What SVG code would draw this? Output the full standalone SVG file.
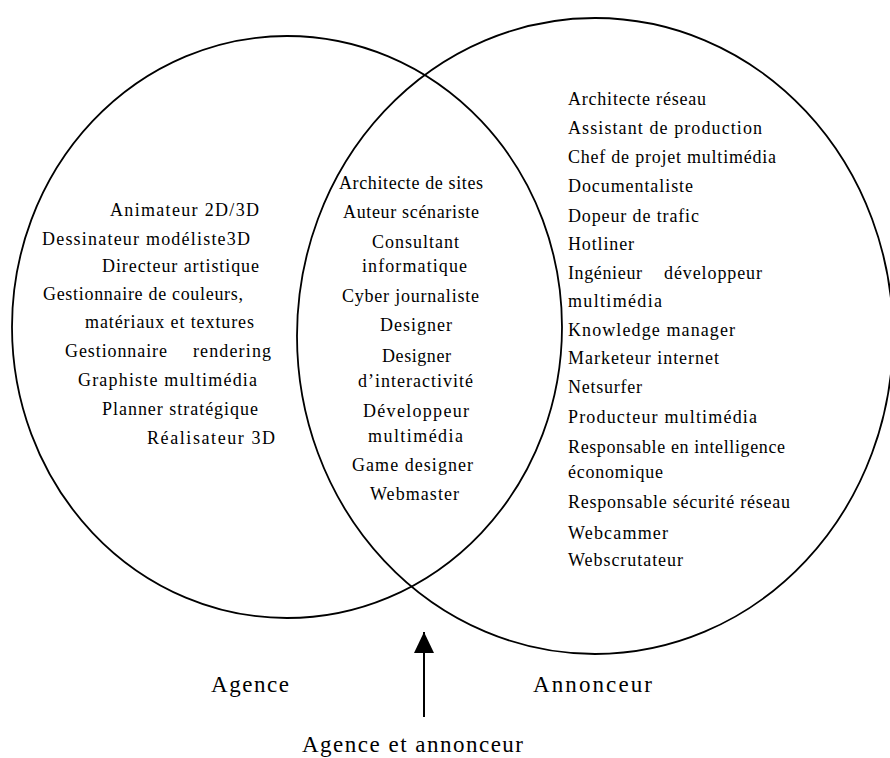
<svg xmlns="http://www.w3.org/2000/svg" width="890" height="758" viewBox="0 0 890 758">
<style>
.set{fill:none;stroke:#000;stroke-width:1.8}
text{font-family:"Liberation Serif","Times New Roman",serif;font-size:18px;fill:#000}
.lbl{font-size:23px}
.conn{stroke:#000;stroke-width:2;fill:none}
</style>
<defs>
<marker id="tri" viewBox="0 0 21 20" refX="21" refY="10" markerWidth="21" markerHeight="20" markerUnits="userSpaceOnUse" orient="auto">
<path d="M0,0 L21,10 L0,20 z" fill="#000"/>
</marker>
</defs>
<g id="agence">
<ellipse class="set" cx="287" cy="327" rx="275" ry="291"/>
<text x="110" y="216" textLength="149" lengthAdjust="spacing">Animateur 2D/3D</text>
<text x="42" y="245" textLength="208" lengthAdjust="spacing">Dessinateur modéliste3D</text>
<text x="102" y="272" textLength="157" lengthAdjust="spacing">Directeur artistique</text>
<text x="43" y="300" textLength="200" lengthAdjust="spacing">Gestionnaire de couleurs,</text>
<text x="85" y="328" textLength="169" lengthAdjust="spacing">matériaux et textures</text>
<text x="65" y="357" textLength="102" lengthAdjust="spacing">Gestionnaire</text>
<text x="193" y="357" textLength="78" lengthAdjust="spacing">rendering</text>
<text x="78" y="386" textLength="179" lengthAdjust="spacing">Graphiste multimédia</text>
<text x="102" y="415" textLength="156" lengthAdjust="spacing">Planner stratégique</text>
<text x="147" y="444" textLength="128" lengthAdjust="spacing">Réalisateur 3D</text>
<text class="lbl" x="211" y="692" textLength="78" lengthAdjust="spacing">Agence</text>
</g>
<g id="annonceur">
<ellipse class="set" cx="595" cy="336" rx="298" ry="318"/>
<text x="568" y="105" textLength="138" lengthAdjust="spacing">Architecte réseau</text>
<text x="568" y="134" textLength="194" lengthAdjust="spacing">Assistant de production</text>
<text x="568" y="163" textLength="208" lengthAdjust="spacing">Chef de projet multimédia</text>
<text x="568" y="192" textLength="125" lengthAdjust="spacing">Documentaliste</text>
<text x="568" y="222" textLength="131" lengthAdjust="spacing">Dopeur de trafic</text>
<text x="568" y="250" textLength="66" lengthAdjust="spacing">Hotliner</text>
<text x="568" y="279" textLength="74" lengthAdjust="spacing">Ingénieur</text>
<text x="664" y="279" textLength="98" lengthAdjust="spacing">développeur</text>
<text x="568" y="307" textLength="94" lengthAdjust="spacing">multimédia</text>
<text x="568" y="336" textLength="167" lengthAdjust="spacing">Knowledge manager</text>
<text x="568" y="364" textLength="151" lengthAdjust="spacing">Marketeur internet</text>
<text x="568" y="393" textLength="74" lengthAdjust="spacing">Netsurfer</text>
<text x="568" y="423" textLength="189" lengthAdjust="spacing">Producteur multimédia</text>
<text x="568" y="453" textLength="217" lengthAdjust="spacing">Responsable en intelligence</text>
<text x="568" y="478" textLength="95" lengthAdjust="spacing">économique</text>
<text x="568" y="508" textLength="222" lengthAdjust="spacing">Responsable sécurité réseau</text>
<text x="568" y="539" textLength="100" lengthAdjust="spacing">Webcammer</text>
<text x="568" y="566" textLength="115" lengthAdjust="spacing">Webscrutateur</text>
<text class="lbl" x="533" y="692" textLength="119" lengthAdjust="spacing">Annonceur</text>
</g>
<g id="agence-et-annonceur">
<text x="339" y="189" textLength="144" lengthAdjust="spacing">Architecte de sites</text>
<text x="343" y="218" textLength="136" lengthAdjust="spacing">Auteur scénariste</text>
<text x="372" y="248" textLength="87" lengthAdjust="spacing">Consultant</text>
<text x="362" y="272" textLength="105" lengthAdjust="spacing">informatique</text>
<text x="342" y="302" textLength="137" lengthAdjust="spacing">Cyber journaliste</text>
<text x="380" y="331" textLength="72" lengthAdjust="spacing">Designer</text>
<text x="382" y="362" textLength="69" lengthAdjust="spacing">Designer</text>
<text x="358" y="387" textLength="115" lengthAdjust="spacing">d’interactivité</text>
<text x="363" y="417" textLength="106" lengthAdjust="spacing">Développeur</text>
<text x="368" y="442" textLength="95" lengthAdjust="spacing">multimédia</text>
<text x="352" y="471" textLength="121" lengthAdjust="spacing">Game designer</text>
<text x="370" y="500" textLength="89" lengthAdjust="spacing">Webmaster</text>
<text class="lbl" x="302" y="752" textLength="221" lengthAdjust="spacing">Agence et annonceur</text>
</g>
<g id="connectors">
<line class="conn" x1="424" y1="717" x2="424" y2="632" marker-end="url(#tri)"/>
</g>
</svg>
